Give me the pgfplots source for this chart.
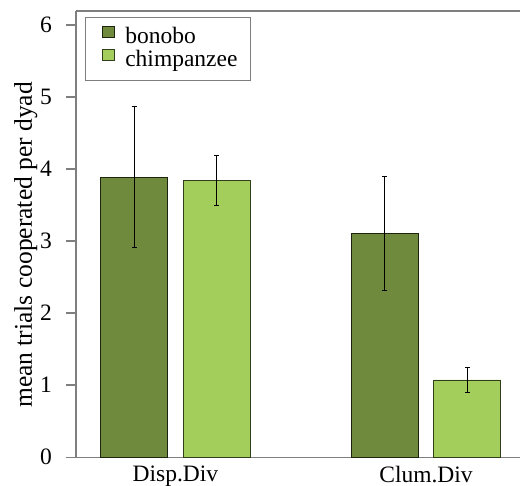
\documentclass[border=0pt]{standalone}
\usepackage{pgfplots}
\pgfplotsset{compat=1.18}
\usepackage{fontspec}
\setmainfont{Liberation Serif}
\definecolor{bono}{HTML}{6F8A3C}
\definecolor{chimp}{HTML}{A4CE5B}
\definecolor{axgray}{HTML}{7F7F7F}
\begin{document}
\fontsize{23.5pt}{27pt}\selectfont
\begin{tikzpicture}
\begin{axis}[
  scale only axis,
  width=444pt, height=446.3pt,
  at={(0,0)}, anchor=south west,
  xmin=-0.397, xmax=1.375,
  ymin=0, ymax=6.194,
  axis x line=box, axis y line=left,
  axis line style={-, draw=axgray, line width=1.5pt},
  ytick={0,1,2,3,4,5,6},
  xtick={0,1},
  xticklabels={Disp.Div,Clum.Div},
  x tick style={draw=none},
  y tick style={draw=axgray, line width=1.5pt},
  tick align=outside,
  major tick length=10pt,
  /pgf/number format/assume math mode=true,
  tick label style={font=\fontsize{23.5pt}{27pt}\selectfont},
  yticklabel style={xshift=-6pt},
  xticklabel style={yshift=9.5pt},
  ylabel={mean trials cooperated per dyad},
  ylabel style={at={(axis description cs:-0.113,0.476)}, anchor=center, font=\fontsize{25.5pt}{30pt}\selectfont},
  ybar, bar width=0.2675, bar shift=0pt,
  legend style={at={(axis description cs:0,1)}, anchor=north west, xshift=9pt, yshift=-6pt,
    draw=axgray, line width=1pt, font=\fontsize{23.5pt}{27pt}\selectfont,
    nodes={inner ysep=1pt, text height=15.5pt, text depth=4.5pt},
    row sep=0pt, column sep=8pt, inner xsep=11pt, inner ysep=8.5pt},
  legend cell align=left,
  legend image code/.code={\path (0pt,0pt) (18pt,11.5pt);\draw[#1, line width=0.8pt] (6pt,0pt) rectangle (18pt,11.5pt);},
  error bars/y dir=both, error bars/y explicit,
  error bars/error bar style={black, line width=1pt},
  error bars/error mark options={rotate=90, mark size=2.5pt, black, line width=1pt},
]
\addplot[fill=bono, draw=black!75!bono, line width=0.8pt]
  coordinates {(-0.1647,3.885) +- (0,0.98) (0.8353,3.11) +- (0,0.79)};
\addlegendentry{bonobo}
\addplot[fill=chimp, draw=black!70!chimp, line width=0.8pt]
  coordinates {(0.1647,3.838) +- (0,0.345) (1.1647,1.074) +- (0,0.175)};
\addlegendentry{chimpanzee}
\end{axis}
\pgfresetboundingbox
\path[use as bounding box] (-76pt,-28.7pt) rectangle (444pt,457.3pt);
\end{tikzpicture}
\end{document}
